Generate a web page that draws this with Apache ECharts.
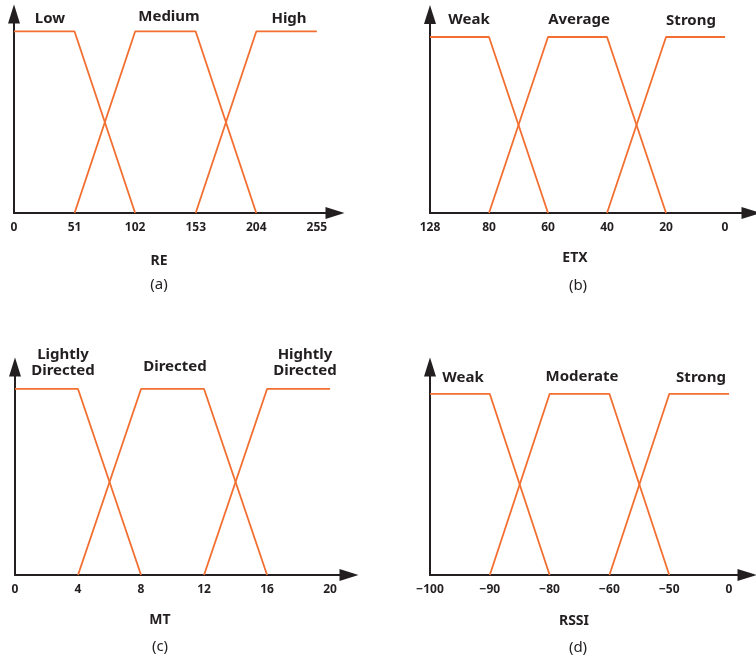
<!DOCTYPE html>
<html>
<head>
<meta charset="utf-8">
<script src="https://cdn.jsdelivr.net/npm/echarts@6/dist/echarts.min.js"></script>
<style>
  html, body { margin: 0; padding: 0; background: #fff; }
  #chart { width: 756px; height: 659px; }
</style>
</head>
<body>
<div id="chart"></div>
<script>
// tick labels for each panel (equally spaced positions 0..5)
var reTicks = ['0', '51', '102', '153', '204', '255'];
var etxTicks = ['128', '80', '60', '40', '20', '0'];
var mtTicks = ['0', '4', '8', '12', '16', '20'];
var rssiTicks = ['\u2212100', '\u221290', '\u221280', '\u221260', '\u221250', '0'];

// membership degree at each tick (null = not drawn)
var lowSet = [1, 1, 0, null, null, null];
var midSet = [null, 0, 1, 1, 0, null];
var highSet = [null, null, null, 0, 1, 1];

var reNames = ['Low', 'Medium', 'High'];
var etxNames = ['Weak', 'Average', 'Strong'];
var mtNames = ['Lightly\nDirected', 'Directed', 'Hightly\nDirected'];
var rssiNames = ['Weak', 'Moderate', 'Strong'];

var axisColor = '#231f20';
var lineColor = '#f26f31';
var font = '"Noto Sans", "Open Sans", sans-serif';

// panel layout
var panels = [
  { ticks: reTicks, names: reNames, title: 'RE', tag: '(a)',
    grid: { left: 14, top: 14, width: 321, height: 199 }, xMax: 5.3, yMax: 1.096,
    namePos: [[50, 19], [169, 17], [289, 19]], titlePos: [159, 261], tagPos: [159, 285] },
  { ticks: etxTicks, names: etxNames, title: 'ETX', tag: '(b)',
    grid: { left: 430, top: 14.5, width: 321, height: 198.5 }, xMax: 5.44, yMax: 1.128,
    namePos: [[469, 20], [579, 20], [691, 21]], titlePos: [575, 258], tagPos: [578, 286] },
  { ticks: mtTicks, names: mtNames, title: 'MT', tag: '(c)',
    grid: { left: 15, top: 367, width: 334, height: 208 }, xMax: 5.3, yMax: 1.118,
    namePos: [[63, 362.5], [175, 367], [305, 362.5]], titlePos: [160, 620], tagPos: [160, 647] },
  { ticks: rssiTicks, names: rssiNames, title: 'RSSI', tag: '(d)',
    grid: { left: 430, top: 367, width: 317, height: 208 }, xMax: 5.3, yMax: 1.149,
    namePos: [[463, 378], [582, 377], [701, 378]], titlePos: [574, 621], tagPos: [578, 648] }
];

function toData(arr) {
  var out = [];
  arr.forEach(function (v, i) { if (v !== null) out.push([i, v]); });
  return out;
}

var grids = [], xAxes = [], yAxes = [], series = [], texts = [];

panels.forEach(function (p, k) {
  grids.push(Object.assign({ containLabel: false }, p.grid));
  xAxes.push({
    type: 'value', gridIndex: k, min: 0, max: p.xMax, interval: 1,
    splitLine: { show: false }, axisTick: { show: false },
    axisLine: { show: true, onZero: false, symbol: ['none', 'triangle'], symbolSize: [12, 19],
      lineStyle: { color: axisColor, width: 2 } },
    axisLabel: {
      show: true, margin: 9, color: axisColor, fontSize: 12, fontWeight: 'bold', fontFamily: font,
      showMaxLabel: true, showMinLabel: true,
      formatter: (function (ticks) {
        return function (v) {
          var i = Math.round(v);
          return Math.abs(v - i) < 1e-6 && ticks[i] !== undefined ? ticks[i] : '';
        };
      })(p.ticks)
    }
  });
  yAxes.push({
    type: 'value', gridIndex: k, min: 0, max: p.yMax,
    splitLine: { show: false }, axisTick: { show: false }, axisLabel: { show: false },
    axisLine: { show: true, symbol: ['none', 'triangle'], symbolSize: [12, 19],
      lineStyle: { color: axisColor, width: 2 } }
  });
  [lowSet, midSet, highSet].forEach(function (set, j) {
    series.push({
      type: 'line', name: p.names[j], xAxisIndex: k, yAxisIndex: k,
      data: toData(set), showSymbol: false, symbol: 'none', silent: true, z: 1,
      lineStyle: { color: lineColor, width: 1.8 }
    });
    texts.push({
      type: 'text', x: p.namePos[j][0], y: p.namePos[j][1],
      style: { text: p.names[j], fill: axisColor, font: 'bold 15px ' + font,
        align: 'center', verticalAlign: 'middle', lineHeight: 16 }
    });
  });
  texts.push({
    type: 'text', x: p.titlePos[0], y: p.titlePos[1],
    style: { text: p.title, fill: axisColor, font: 'bold 14px ' + font, align: 'center', verticalAlign: 'middle' }
  });
  texts.push({
    type: 'text', x: p.tagPos[0], y: p.tagPos[1],
    style: { text: p.tag, fill: axisColor, font: '15px ' + font, align: 'center', verticalAlign: 'middle' }
  });
});

var chart = echarts.init(document.getElementById('chart'), null, { renderer: 'canvas' });
chart.setOption({
  backgroundColor: '#ffffff',
  animation: false,
  grid: grids,
  xAxis: xAxes,
  yAxis: yAxes,
  series: series,
  graphic: texts
});
</script>
</body>
</html>
